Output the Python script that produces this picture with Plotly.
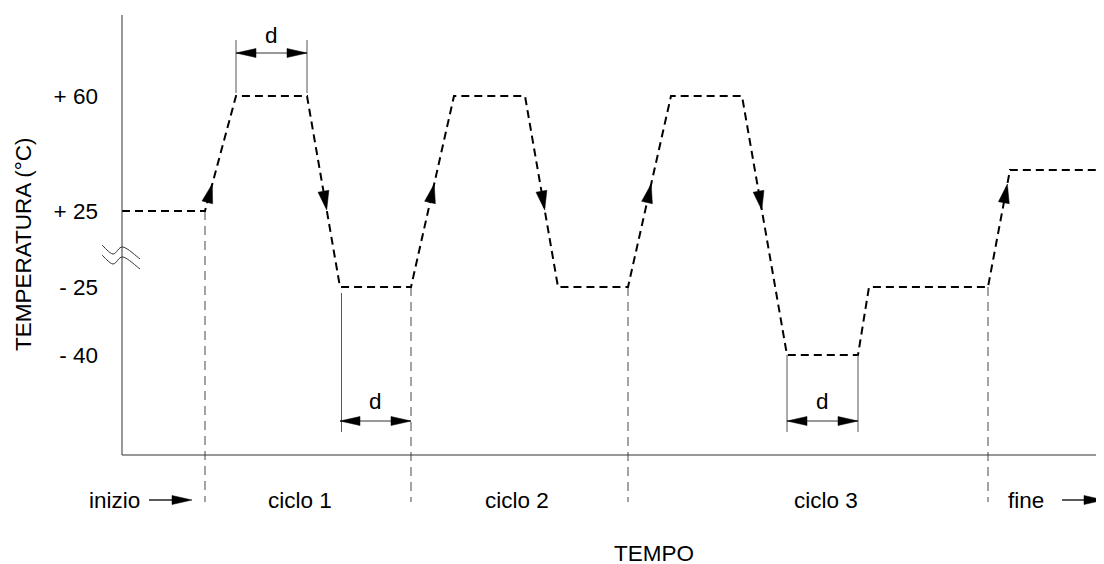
import numpy as np
import plotly.graph_objects as go

# ------------------------------------------------------------------ data
# time (arbitrary units) and temperature (°C) of the schematic profile
time = [0, 83, 114, 185, 218, 289, 332, 403, 436, 506, 549, 620, 665, 736, 747, 866, 888, 982]
temperature = [25, 25, 60, 60, -25, -25, 60, 60, -25, -25, 60, 60, -40, -40, -25, -25, 37.5, 37.5]

tick_temps = [60, 25, -25, -40]
tick_labels = ["+ 60", "+ 25", "- 25", "- 40"]

phase_bounds = [83, 289, 506, 866]          # inizio | ciclo 1 | ciclo 2 | ciclo 3 | fine
phase_names = ["ciclo 1", "ciclo 2", "ciclo 3"]
start_label = "inizio"
end_label = "fine"
dwell_plateaus = [2, 4, 12]                  # first index of each plateau marked "d"
dwell_label = "d"
x_title = "TEMPO"
y_title = "TEMPERATURA (°C)"

# ------------------------------------------------------------------ scale
# broken (schematic) temperature axis: temperature -> vertical position
scale_temps = [-40, -25, 25, 60]
scale_pos = [100, 168, 244, 359]

X_RANGE = [-2, 990]
Y_RANGE = [-117, 440]
W, H = 1104, 564
M_L, M_R, M_T, M_B = 112, 0, 7, 0

FONT = dict(family="Liberation Sans, Arial, sans-serif", size=22.5, color="black")


def ypos(t):
    return float(np.interp(t, scale_temps, scale_pos))


def to_paper(x, y):
    px = (x - X_RANGE[0]) / (X_RANGE[1] - X_RANGE[0])
    py = (y - Y_RANGE[0]) / (Y_RANGE[1] - Y_RANGE[0])
    return px, py


def head(tip, direction, length, half):
    tx, ty = tip
    dx, dy = direction
    n = np.hypot(dx, dy)
    ux, uy = dx / n, dy / n
    nx, ny = -uy, ux
    bx, by = tx - ux * length, ty - uy * length
    return ([tx, bx + nx * half, bx - nx * half, tx, None],
            [ty, by + ny * half, by - ny * half, ty, None])


xs = np.array(time, dtype=float)
ys = np.array([ypos(t) for t in temperature])

fig = go.Figure()

# cycle boundaries (grey dashed verticals)
LOW = -47
vx, vy = [], []
for b in phase_bounds:
    vx += [b, b, None]
    vy += [float(np.interp(b, xs, ys)), LOW, None]
fig.add_trace(go.Scatter(x=vx, y=vy, mode="lines",
                         line=dict(color="#666", width=1.2, dash="9px,6px"),
                         hoverinfo="skip"))

# main temperature profile
fig.add_trace(go.Scatter(x=xs, y=ys, mode="lines",
                         line=dict(color="black", width=2, dash="8px,5px"),
                         hoverinfo="skip"))

heads_x, heads_y = [], []

# direction arrows on the slopes
RISE_LEVEL, FALL_LEVEL = 271, 245
for i in range(len(xs) - 1):
    y0, y1 = ys[i], ys[i + 1]
    if y0 == y1:
        continue
    lvl = RISE_LEVEL if y1 > y0 else FALL_LEVEL
    if min(y0, y1) <= lvl <= max(y0, y1):
        f = (lvl - y0) / (y1 - y0)
        tip = (xs[i] + f * (xs[i + 1] - xs[i]), lvl)
        hx, hy = head(tip, (xs[i + 1] - xs[i], y1 - y0), 19, 5.5)
        heads_x += hx
        heads_y += hy

# dwell "d" dimension marks
ext_x, ext_y = [], []
dim_x, dim_y = [], []
annotations = []
top = max(ys)
for idx in dwell_plateaus:
    x0, x1, lvl = xs[idx], xs[idx + 1], ys[idx]
    if lvl == top:
        e0, e1, arr, txt = lvl + 3, lvl + 56, lvl + 43, lvl + 61
        lines = [x0, x1]
    else:
        e0, e1, arr, txt = lvl - 6, 23, 34, 54
        lines = [x0 + 1.5] if x1 in phase_bounds else [x0, x1]
        if x1 not in phase_bounds:
            e0 = lvl
    for lx in lines:
        ext_x += [lx, lx, None]
        ext_y += [e0, e1, None]
    dim_x += [x0, x1, None]
    dim_y += [arr, arr, None]
    for tip, d in (((x0, arr), (-1, 0)), ((x1, arr), (1, 0))):
        hx, hy = head(tip, d, 20, 4.5)
        heads_x += hx
        heads_y += hy
    annotations.append(dict(x=(x0 + x1) / 2, y=txt, text=dwell_label, showarrow=False,
                            xanchor="center", yanchor="middle", font=FONT))

fig.add_trace(go.Scatter(x=ext_x, y=ext_y, mode="lines",
                         line=dict(color="#555", width=1), hoverinfo="skip"))
fig.add_trace(go.Scatter(x=dim_x, y=dim_y, mode="lines",
                         line=dict(color="#333", width=1), hoverinfo="skip"))

# start / end arrows
LAB_Y = -45
fig.add_trace(go.Scatter(x=[27, 55, None, 940, 965], y=[LAB_Y, LAB_Y, None, LAB_Y, LAB_Y],
                         mode="lines", line=dict(color="black", width=1.3), hoverinfo="skip"))
for tip in ((70, LAB_Y), (982, LAB_Y)):
    hx, hy = head(tip, (1, 0), 20, 4.5)
    heads_x += hx
    heads_y += hy

fig.add_trace(go.Scatter(x=heads_x, y=heads_y, mode="lines", fill="toself",
                         fillcolor="black", line=dict(color="black", width=0.5),
                         hoverinfo="skip"))

# phase labels
annotations.append(dict(x=20, y=LAB_Y, text=start_label, showarrow=False,
                        xanchor="right", yanchor="middle", font=FONT))
for name, cx in zip(phase_names, [178, 395, 704]):
    annotations.append(dict(x=cx, y=LAB_Y, text=name, showarrow=False,
                            xanchor="center", yanchor="middle", font=FONT))
annotations.append(dict(x=884, y=LAB_Y, text=end_label, showarrow=False,
                        xanchor="left", yanchor="middle", font=FONT))
annotations.append(dict(x=532, y=-98, text=x_title, showarrow=False,
                        xanchor="center", yanchor="middle", font=FONT))
tx, ty = to_paper(-99, 211)
annotations.append(dict(x=tx, y=ty, xref="paper", yref="paper", text=y_title,
                        textangle=-90, showarrow=False, xanchor="center",
                        yanchor="middle", font=FONT))

# axis lines
shapes = [
    dict(type="line", xref="x", yref="y", x0=0, x1=0, y0=0, y1=Y_RANGE[1],
         line=dict(color="#333", width=1)),
    dict(type="line", xref="x", yref="y", x0=0, x1=X_RANGE[1], y0=0, y1=0,
         line=dict(color="#333", width=1)),
]


# axis break symbol
def smooth_path(pts):
    pts = [np.array(to_paper(*p)) for p in pts]
    d = "M{:.5f},{:.5f}".format(*pts[0])
    for i in range(len(pts) - 1):
        p0 = pts[i - 1] if i > 0 else pts[i]
        p1, p2 = pts[i], pts[i + 1]
        p3 = pts[i + 2] if i + 2 < len(pts) else pts[i + 1]
        c1 = p1 + (p2 - p0) / 6
        c2 = p2 - (p3 - p1) / 6
        d += " C{:.5f},{:.5f} {:.5f},{:.5f} {:.5f},{:.5f}".format(*c1, *c2, *p2)
    return d


for off in (0, -10):
    pts = [(-20, 210 + off), (-9, 201 + off), (1, 208 + off), (18, 196 + off)]
    shapes.append(dict(type="path", xref="paper", yref="paper", path=smooth_path(pts),
                       line=dict(color="#333", width=1)))

fig.update_layout(
    width=W, height=H, autosize=False,
    margin=dict(l=M_L, r=M_R, t=M_T, b=M_B, pad=0),
    paper_bgcolor="white", plot_bgcolor="white",
    showlegend=False,
    font=FONT,
    annotations=annotations,
    shapes=shapes,
    xaxis=dict(range=X_RANGE, visible=False, fixedrange=True),
    yaxis=dict(range=Y_RANGE, tickvals=[ypos(t) for t in tick_temps], ticktext=tick_labels,
               showgrid=False, zeroline=False, showline=False, ticks="",
               ticklabelstandoff=21, tickfont=FONT, fixedrange=True),
)

fig.write_html("out.html")
